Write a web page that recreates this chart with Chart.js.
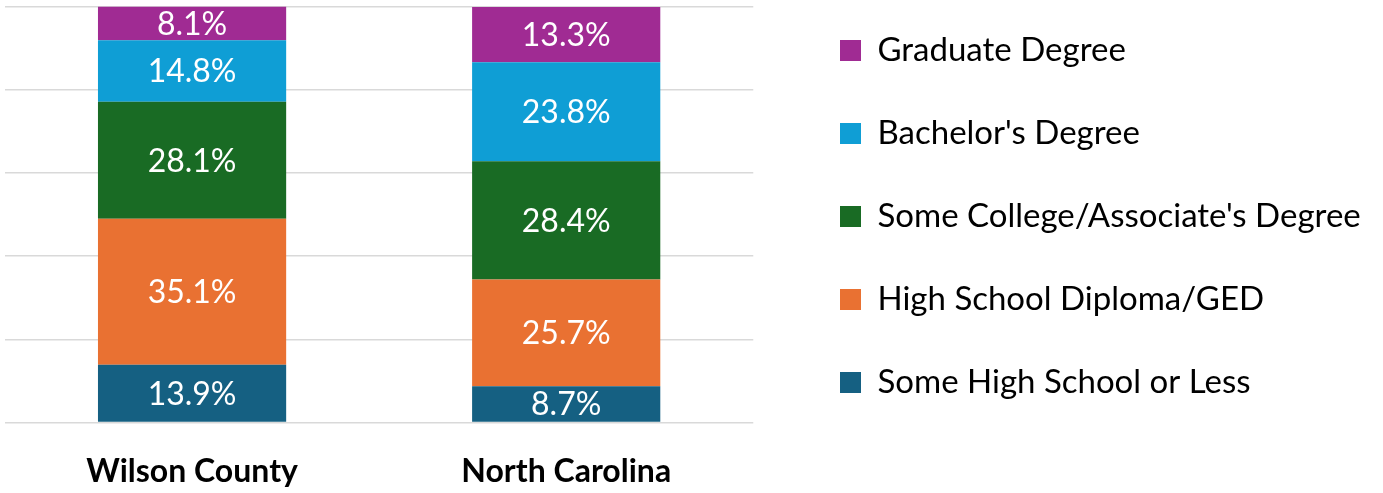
<!DOCTYPE html>
<html>
<head>
<meta charset="utf-8">
<script src="https://cdn.jsdelivr.net/npm/chart.js@4"></script>
<style>
    html, body { margin: 0; padding: 0; background: #fff; }
    #wrap { width: 1383px; height: 493px; }
</style>
</head>
<body>
<div id="wrap"><canvas id="c"></canvas></div>
<script>
const categories = ['Wilson County', 'North Carolina'];
const someHighSchool = [13.9, 8.7];
const highSchoolDiploma = [35.1, 25.7];
const someCollege = [28.1, 28.4];
const bachelors = [14.8, 23.8];
const graduate = [8.1, 13.3];
const seriesNames = ['Some High School or Less', 'High School Diploma/GED', "Some College/Associate's Degree", "Bachelor's Degree", 'Graduate Degree'];
const yTicks = [0, 20, 40, 60, 80, 100];

const colors = ['#156082', '#E97132', '#196B24', '#0F9ED5', '#A02B93'];
const legendFont = 33;
const legendPad = 83 - legendFont;

// white value text in the middle of every segment
const barLabels = {
    id: 'barLabels',
    afterDatasetsDraw(chart) {
        const ctx = chart.ctx;
        ctx.save();
        ctx.fillStyle = '#fff';
        ctx.font = '32px Lato';
        ctx.textAlign = 'center';
        ctx.textBaseline = 'middle';
        chart.data.datasets.forEach((ds, i) => {
            chart.getDatasetMeta(i).data.forEach((bar, j) => {
                const { x, y, base } = bar.getProps(['x', 'y', 'base'], true);
                ctx.fillText(ds.data[j].toFixed(1) + '%', x, (y + base) / 2 + 1);
            });
        });
        ctx.restore();
    }
};

// push the legend a bit away from the plot and up, like the original
const legendPlace = {
    id: 'legendPlace',
    afterLayout(chart) {
        const lg = chart.legend;
        const dx = 840 - (lg.left + legendPad);
        const dy = 34 - (lg.top + legendPad);
        lg.left += dx; lg.right += dx;
        lg.top += dy; lg.bottom += dy;
    }
};

const datasets = [someHighSchool, highSchoolDiploma, someCollege, bachelors, graduate].map((d, i) => ({
    label: seriesNames[i],
    data: d,
    backgroundColor: colors[i],
    borderWidth: 0,
    categoryPercentage: 1,
    barPercentage: 0.503
}));

new Chart(document.getElementById('c').getContext('2d'), {
    type: 'bar',
    data: { labels: categories, datasets },
    plugins: [barLabels, legendPlace],
    options: {
        responsive: true,
        maintainAspectRatio: false,
        animation: false,
        layout: { padding: { left: 5, top: 6.5, bottom: 4, right: 49 } },
        plugins: {
            title: { display: false },
            tooltip: { enabled: false },
            legend: {
                position: 'right',
                align: 'start',
                reverse: true,
                maxWidth: 700,
                labels: {
                    boxWidth: 21,
                    boxHeight: 21,
                    padding: legendPad,
                    color: '#000',
                    font: { family: 'Lato', size: legendFont }
                }
            }
        },
        scales: {
            x: {
                stacked: true,
                grid: { display: false, drawTicks: false },
                border: { display: false },
                ticks: {
                    padding: 30,
                    color: '#000',
                    font: { family: 'Lato', size: 32, weight: 'bold', lineHeight: 1.2 }
                },
                afterFit: scale => { scale.height = 66.5; }
            },
            y: {
                stacked: true,
                min: 0,
                max: 100,
                afterBuildTicks: axis => { axis.ticks = yTicks.map(v => ({ value: v })); },
                grid: { color: '#D9D9D9', lineWidth: 1.5, drawTicks: false },
                border: { display: false },
                ticks: { display: false }
            }
        }
    }
});
</script>
</body>
</html>
